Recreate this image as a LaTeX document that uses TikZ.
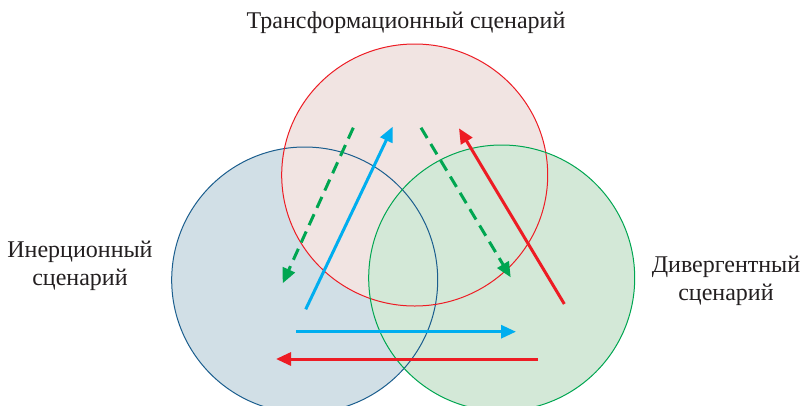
\documentclass[tikz,border=0pt]{standalone}
\usepackage{fontspec}
\setmainfont{Liberation Serif}
\newfontfamily\lserif{Liberation Serif}
\usetikzlibrary{arrows.meta}
\definecolor{bluefill}{HTML}{D1DFE6}
\definecolor{redfill}{HTML}{F1E4E2}
\definecolor{greenfill}{HTML}{D3E8D7}
\definecolor{blueline}{HTML}{1B5E8E}
\definecolor{redline}{HTML}{ED1C24}
\definecolor{greenline}{HTML}{00A651}
\definecolor{cyanline}{HTML}{00AEEF}
\definecolor{txt}{HTML}{231F20}
\begin{document}
\begin{tikzpicture}[x=1pt,y=-1pt,
  outl/.style={line width=1pt},
  arr/.style={line width=3pt,-{Triangle[length=15pt,width=13pt]}},
  darr/.style={arr,dash pattern=on 12pt off 7pt},
  lbl/.style={font=\lserif\fontsize{24}{28}\selectfont,text=txt,align=center,inner sep=0pt}]
\clip (0,0) rectangle (803,405);
\fill[white] (0,0) rectangle (803,405);
% fills
\fill[bluefill] (304.7,280) circle[radius=133pt];
\fill[redfill] (414.7,175) ellipse[x radius=133pt,y radius=131pt];
\fill[greenfill] (501.7,278) circle[radius=133pt];
% outlines
\draw[outl,blueline] (304.7,280) circle[radius=133pt];
\draw[outl,redline] (414.7,175) ellipse[x radius=133pt,y radius=131pt];
\draw[outl,greenline] (501.7,278) circle[radius=133pt];
% labels
\node[lbl] (top) at (406,23) {Трансформационный сценарий};
\node[lbl] (left) at (80,266) {Инерционный\\сценарий};
\node[lbl] (right) at (726,280.5) {Дивергентный\\сценарий};
% arrow endpoints
\coordinate (g1s) at (353.3,127.7);
\coordinate (g1e) at (282.7,283.3);
\coordinate (b1s) at (305.7,309.3);
\coordinate (b1e) at (392.7,126.7);
\coordinate (g2s) at (421,127.7);
\coordinate (g2e) at (510.7,277.3);
\coordinate (r1s) at (564.3,304);
\coordinate (r1e) at (459,128.3);
\coordinate (b2s) at (296,331.7);
\coordinate (b2e) at (516,331.7);
\coordinate (r2s) at (537.7,359);
\coordinate (r2e) at (276,359);
% arrows
\draw[darr,greenline] (g1s) -- (g1e);
\draw[arr,cyanline] (b1s) -- (b1e);
\draw[darr,greenline] (g2s) -- (g2e);
\draw[arr,redline] (r1s) -- (r1e);
\draw[arr,cyanline] (b2s) -- (b2e);
\draw[arr,redline] (r2s) -- (r2e);
\end{tikzpicture}
\end{document}
